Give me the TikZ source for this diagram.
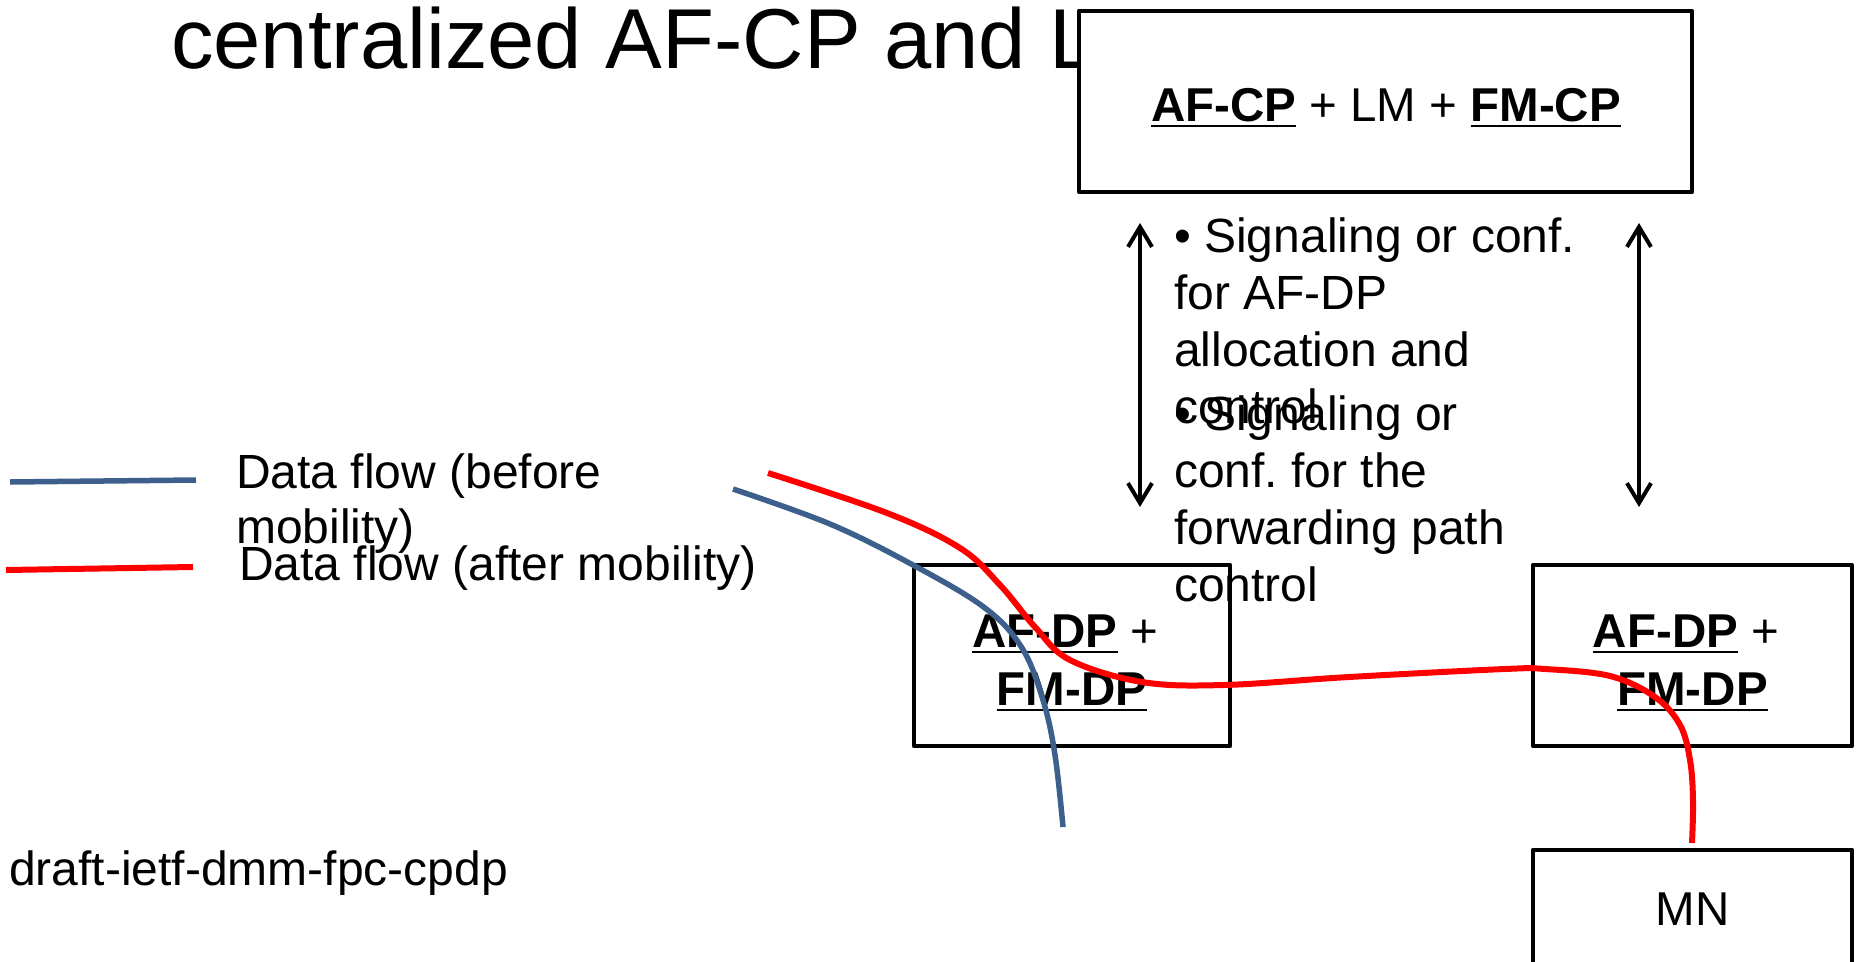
\documentclass[tikz,border=0pt]{standalone}
\usepackage{fontspec}
\setmainfont{Liberation Sans}
\usetikzlibrary{arrows.meta}
\definecolor{flowblue}{RGB}{61,95,140}
\definecolor{flowred}{RGB}{255,0,0}
\newsavebox\ulbox
\newcommand{\myul}[1]{\sbox\ulbox{#1}\rlap{\rule[-6pt]{\wd\ulbox}{2.5pt}}\usebox\ulbox}
\frenchspacing
\begin{document}
\begin{tikzpicture}[x=1pt,y=-1pt,
  boxstyle/.style={draw=black, line width=4.5pt, line join=round, rectangle, inner sep=0pt},
  txt/.style={inner sep=0pt, font=\fontsize{48}{58}\selectfont},
  boxtxt/.style={inner sep=0pt, font=\fontsize{47.5}{58}\selectfont},
  bullettxt/.style={inner sep=0pt, anchor=base west, font=\fontsize{48}{57}\selectfont},
  sigarrow/.style={line width=4pt, arrows={Straight Barb[length=20pt,width=24pt]-Straight Barb[length=20pt,width=24pt]}},
  blueflow/.style={draw=flowblue, line width=5.5pt},
  redflow/.style={draw=flowred, line width=6pt}]
\useasboundingbox (0,0) rectangle (1860,961);
\clip (0,0) rectangle (1860,961);
\fill[white] (0,0) rectangle (1860,961);

% title (partly covered by the control-plane box)
\node[anchor=base west, inner sep=0pt, font=\fontsize{85}{100}\selectfont] (title) at (171,68) {centralized AF-CP and LM};

% control plane box
\node[boxstyle, fill=white, minimum width=613pt, minimum height=181pt] (cp) at (1385.5,101.5) {};
\node[boxtxt, anchor=base] (cptext) at (1386,121) {\myul{\textbf{AF-CP}} + LM + \myul{\textbf{FM-CP}}};

% signaling texts
\node[bullettxt] (sig1) at (1174,252) {\begin{tabular}[t]{@{}l@{}}• Signaling or conf.\\ for AF-DP\\ allocation and\\ control\end{tabular}};
\node[bullettxt] (sig2) at (1174,430) {\begin{tabular}[t]{@{}l@{}}• Signaling or\\ conf. for the\\ forwarding path\\ control\end{tabular}};

% data plane boxes
\node[boxstyle, minimum width=316pt, minimum height=181pt] (dpL) at (1072,655.5) {};
\node[boxtxt, anchor=base] (dpLtext) at (1072,647) {\begin{tabular}[t]{@{}c@{}}\myul{\textbf{AF-DP}} +\kern13pt\\ \myul{\textbf{FM-DP}}\end{tabular}};
\node[boxstyle, minimum width=319pt, minimum height=181pt] (dpR) at (1692.5,655.5) {};
\node[boxtxt, anchor=base] (dpRtext) at (1692.5,647) {\begin{tabular}[t]{@{}c@{}}\myul{\textbf{AF-DP}} +\kern13pt\\ \myul{\textbf{FM-DP}}\end{tabular}};

% mobile node
\node[boxstyle, boxtxt, minimum width=319pt, minimum height=118pt] (mn) at (1692.5,909) {MN};

% signaling arrows
\coordinate (aLt) at (1140,223);
\coordinate (aLb) at (1140,507);
\coordinate (aRt) at (1639,223);
\coordinate (aRb) at (1639,507);
\draw[sigarrow] (aLt) -- (aLb);
\draw[sigarrow] (aRt) -- (aRb);

% legend
\coordinate (lb1) at (10,482);
\coordinate (lb2) at (196,480);
\coordinate (lr1) at (6,570);
\coordinate (lr2) at (193,567);
\draw[blueflow] (lb1) -- (lb2);
\draw[redflow] (lr1) -- (lr2);
\node[inner sep=0pt, anchor=base west, font=\fontsize{48}{55}\selectfont] (lgblue) at (236,488) {\begin{tabular}[t]{@{}l@{}}Data flow (before\\ mobility)\end{tabular}};
\node[txt, anchor=base west] (lgred) at (239,580) {Data flow (after mobility)};

% footer
\node[txt, anchor=base west] (draft) at (9,885) {draft-ietf-dmm-fpc-cpdp};

% data flows
\coordinate (b0) at (733,489);
\coordinate (b1) at (1063,827);
\draw[blueflow] plot[smooth, tension=0.6] coordinates {(b0) (830,524) (913,565) (985,608) (1022,648) (1043,700) (1055,755) (b1)};
\coordinate (r0) at (768,473);
\coordinate (r1) at (1692,843);
\draw[redflow] plot[smooth, tension=0.6] coordinates {(r0) (887,513) (960,548) (1000,585) (1035,627) (1070,660) (1142,682) (1224,685) (1349,677) (1505,669) (1545,669) (1610,676) (1655,697) (1680,725) (1690,760) (1693,800) (r1)};
\end{tikzpicture}
\end{document}
